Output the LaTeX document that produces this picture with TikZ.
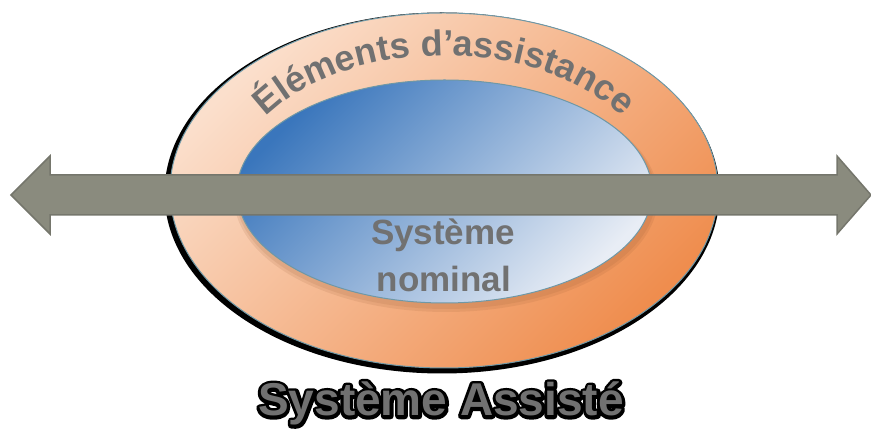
\documentclass[tikz,border=0pt]{standalone}
\usepackage{fontspec}
\setmainfont{Liberation Sans}
\usetikzlibrary{decorations.text}
\definecolor{peachlight}{HTML}{FBDFCC}
\definecolor{peachdark}{HTML}{EF8D4E}
\definecolor{bluedark}{HTML}{3A76BC}
\definecolor{bluelight}{HTML}{E8EDF5}
\definecolor{rimline}{HTML}{6F98A6}
\definecolor{arrowfill}{HTML}{8A8B7E}
\definecolor{arrowline}{HTML}{75766C}
\definecolor{textgray}{HTML}{717171}
\begin{document}
\begin{tikzpicture}[x=1pt,y=1pt,
  ringshade/.style={top color=peachlight, bottom color=peachdark, shading angle=45, draw=rimline, line width=1pt},
  coreshade/.style={top color=bluedark, bottom color=bluelight, shading angle=45, draw=rimline, line width=1pt},
  arrowbody/.style={fill=arrowfill, draw=arrowline, line width=1.5pt, line join=miter},
  midlabel/.style={text=textgray, font=\bfseries\fontsize{35}{35}\selectfont, anchor=base, inner sep=0pt},
  biglabel/.style={font=\bfseries\fontsize{46}{46}\selectfont, anchor=base, inner sep=0pt}]
\useasboundingbox (0,0) rectangle (871,430);
\coordinate (oc) at (444,239.5);
\coordinate (ic) at (444.5,238.5);
% outer ring with dark rim
\fill[black] (442,237) ellipse [x radius=277.5, y radius=180.5];
\shade[ringshade] (oc) ellipse [x radius=274, y radius=177.5];
% soft shadow under the core
\fill[peachdark!60!black, opacity=0.12] (446,233) ellipse [x radius=212, y radius=115];
\fill[peachdark!60!black, opacity=0.12] (446,234) ellipse [x radius=210, y radius=113];
% inner core
\shade[coreshade] (ic) ellipse [x radius=207.5, y radius=111.5];
% curved label
\path[decorate, decoration={text along path, text color=textgray,
   text={|\bfseries\fontsize{36}{36}\selectfont|Éléments d’assistance}, text align=center}]
   (oc) ++(175:212 and 135) arc[start angle=175, end angle=5, x radius=212, y radius=135];
% double arrow
\coordinate (lt) at (11,235);
\coordinate (rt) at (871,235);
\draw[arrowbody] (lt) -- (50,274) -- (50,255) -- (837,255) -- (837,274) -- (rt)
   -- (837,196) -- (837,215) -- (50,215) -- (50,196) -- cycle;
% core label
\node[midlabel] (nom1) at (443,185) {Système};
\node[midlabel] (nom2) at (444,138) {nominal};
% bottom title with black outline (stroked glyphs behind the grey fill)
\coordinate (bt) at (441,14);
\node[biglabel, text=black] (outline) at (bt)
  {\special{pdf:literal 2 Tr 6.5 w 1 j 0 0 0 RG}Système Assisté\special{pdf:literal 0 Tr 1 w}};
\node[biglabel, text=textgray] (title) at (bt) {Système Assisté};
\end{tikzpicture}
\end{document}
